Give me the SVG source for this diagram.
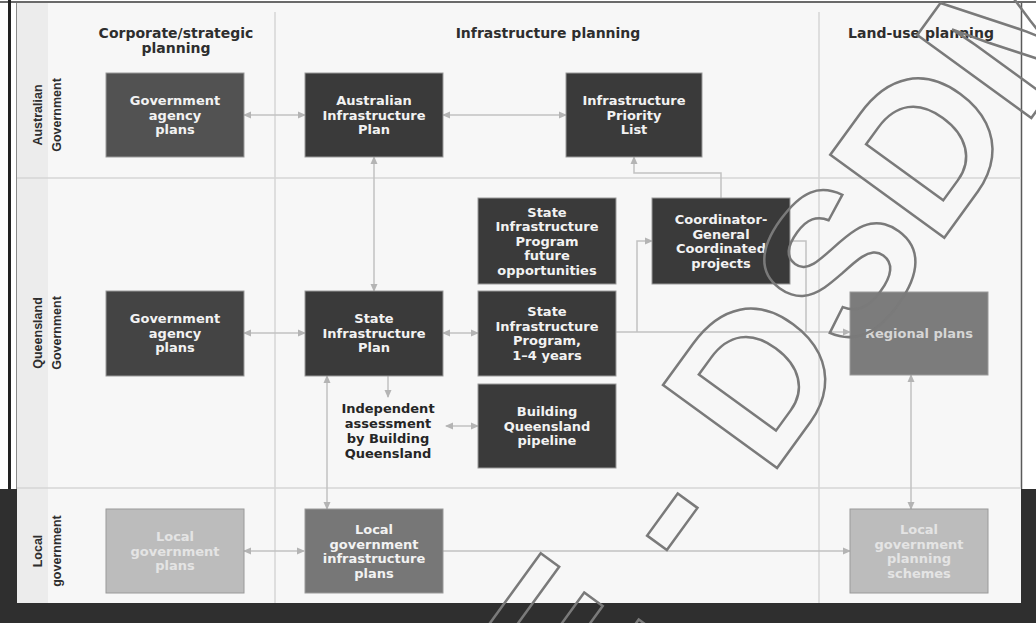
<svg xmlns="http://www.w3.org/2000/svg" width="1036" height="623" viewBox="0 0 1036 623">
<defs>
<marker id="arr" markerUnits="userSpaceOnUse" markerWidth="8" markerHeight="8" refX="7" refY="4" orient="auto-start-reverse">
<path d="M0,0.5 L8,4 L0,7.5 z" fill="#b4b4b4"/>
</marker>
<style>
.bx{stroke:#9a9a9a;stroke-width:1}
.d1{fill:#3a3a3a}.d2{fill:#525252}.d3{fill:#444444}.m1{fill:#7c7c7c}.m2{fill:#777777}.l1{fill:#bcbcbc}
.t{font-family:"DejaVu Sans",sans-serif;font-weight:bold;font-size:13px;text-anchor:middle;fill:#f2f2f2}
.tm{fill:#d6d6d6}.tl{fill:#e4e4e4}
.h{font-family:"DejaVu Sans",sans-serif;font-weight:bold;font-size:14px;text-anchor:middle;fill:#2e2e2e}
.r{font-family:"Liberation Sans",sans-serif;font-weight:bold;font-size:12.5px;text-anchor:middle;fill:#2e2e2e}
.ia{font-family:"DejaVu Sans",sans-serif;font-weight:bold;font-size:13px;text-anchor:middle;fill:#262626}
.cn{fill:none;stroke:#c2c2c2;stroke-width:1.5}
.dv{stroke:#d6d6d6;stroke-width:1.5}
.wm{font-family:"Liberation Sans",Arial,sans-serif;font-weight:bold;font-size:205px;fill:none;stroke:#7a7a7a;stroke-width:2.5}
</style>
</defs>
<rect width="1036" height="623" fill="#ffffff"/>
<rect x="0" y="489" width="1036" height="134" fill="#2f2f2f"/>
<rect x="17" y="3" width="1004" height="600" fill="#f7f7f7"/>
<rect x="17" y="3" width="31" height="600" fill="#ececec"/>
<line x1="0" y1="2" x2="1036" y2="2" stroke="#6a6a6a" stroke-width="2"/>
<rect x="8" y="0" width="3" height="489" fill="#222"/>
<line x1="16.5" y1="3" x2="16.5" y2="489" stroke="#8a8a8a" stroke-width="1"/>
<line x1="1021.5" y1="3" x2="1021.5" y2="489" stroke="#5a5a5a" stroke-width="1.5"/>

<g id="grid">
<line class="dv" x1="275" y1="12" x2="275" y2="603"/>
<line class="dv" x1="819" y1="12" x2="819" y2="603"/>
<line class="dv" x1="17" y1="178" x2="1021" y2="178"/>
<line class="dv" x1="17" y1="488" x2="1021" y2="488"/>
</g>

<g id="headers">
<text class="h" x="176" y="38">Corporate/strategic</text>
<text class="h" x="176" y="53">planning</text>
<text class="h" x="548" y="38">Infrastructure planning</text>
<text class="h" x="921" y="38">Land-use planning</text>
</g>

<g id="rowlabels">
<text class="r" transform="translate(42,115) rotate(-90)">Australian</text>
<text class="r" transform="translate(61,115) rotate(-90)">Government</text>
<text class="r" transform="translate(42,333) rotate(-90)">Queensland</text>
<text class="r" transform="translate(61,333) rotate(-90)">Government</text>
<text class="r" transform="translate(42,551) rotate(-90)">Local</text>
<text class="r" transform="translate(61,551) rotate(-90)">government</text>
</g>

<g id="connectors">
<path class="cn" d="M244,115 H305" marker-start="url(#arr)" marker-end="url(#arr)"/>
<path class="cn" d="M443,115 H566" marker-start="url(#arr)" marker-end="url(#arr)"/>
<path class="cn" d="M374,157 V291" marker-start="url(#arr)" marker-end="url(#arr)"/>
<path class="cn" d="M634,157 V173 H721 V198" marker-start="url(#arr)"/>
<path class="cn" d="M616,332 H850" marker-end="url(#arr)"/>
<path class="cn" d="M637,332 V241 H652" marker-end="url(#arr)"/>
<path class="cn" d="M790,241 H806 V332"/>
<path class="cn" d="M244,333 H305" marker-start="url(#arr)" marker-end="url(#arr)"/>
<path class="cn" d="M443,333 H478" marker-start="url(#arr)" marker-end="url(#arr)"/>
<path class="cn" d="M388,376 V397" marker-end="url(#arr)"/>
<path class="cn" d="M446,426 H478" marker-start="url(#arr)" marker-end="url(#arr)"/>
<path class="cn" d="M327,376 V509" marker-start="url(#arr)" marker-end="url(#arr)"/>
<path class="cn" d="M244,551 H304" marker-start="url(#arr)" marker-end="url(#arr)"/>
<path class="cn" d="M443,551 H850" marker-end="url(#arr)"/>
<path class="cn" d="M911,375 V509" marker-start="url(#arr)" marker-end="url(#arr)"/>
</g>

<g id="aus-agency">
<rect class="bx d2" x="106" y="73" width="138" height="84"/>
<text class="t" x="175" y="105">Government</text>
<text class="t" x="175" y="119.5">agency</text>
<text class="t" x="175" y="134">plans</text>
</g>
<g id="aus-infra-plan">
<rect class="bx d1" x="305" y="73" width="138" height="84"/>
<text class="t" x="374" y="105">Australian</text>
<text class="t" x="374" y="119.5">Infrastructure</text>
<text class="t" x="374" y="134">Plan</text>
</g>
<g id="priority-list">
<rect class="bx d1" x="566" y="73" width="136" height="84"/>
<text class="t" x="634" y="105">Infrastructure</text>
<text class="t" x="634" y="119.5">Priority</text>
<text class="t" x="634" y="134">List</text>
</g>
<g id="sip-future">
<rect class="bx d1" x="478" y="198" width="138" height="86"/>
<text class="t" x="547" y="216.5">State</text>
<text class="t" x="547" y="231">Infrastructure</text>
<text class="t" x="547" y="245.5">Program</text>
<text class="t" x="547" y="260">future</text>
<text class="t" x="547" y="274.5">opportunities</text>
</g>
<g id="coordinator-general">
<rect class="bx d1" x="652" y="198" width="138" height="86"/>
<text class="t" x="721" y="224">Coordinator-</text>
<text class="t" x="721" y="238.5">General</text>
<text class="t" x="721" y="253">Coordinated</text>
<text class="t" x="721" y="267.5">projects</text>
</g>
<g id="qld-agency">
<rect class="bx d3" x="106" y="291" width="138" height="85"/>
<text class="t" x="175" y="323">Government</text>
<text class="t" x="175" y="337.5">agency</text>
<text class="t" x="175" y="352">plans</text>
</g>
<g id="state-infra-plan">
<rect class="bx d1" x="305" y="291" width="138" height="85"/>
<text class="t" x="374" y="323">State</text>
<text class="t" x="374" y="337.5">Infrastructure</text>
<text class="t" x="374" y="352">Plan</text>
</g>
<g id="sip-1-4">
<rect class="bx d1" x="478" y="291" width="138" height="85"/>
<text class="t" x="547" y="316">State</text>
<text class="t" x="547" y="330.5">Infrastructure</text>
<text class="t" x="547" y="345">Program,</text>
<text class="t" x="547" y="359.5">1–4 years</text>
</g>
<g id="bq-pipeline">
<rect class="bx d1" x="478" y="384" width="138" height="84"/>
<text class="t" x="547" y="416">Building</text>
<text class="t" x="547" y="430.5">Queensland</text>
<text class="t" x="547" y="445">pipeline</text>
</g>
<g id="independent-assessment">
<text class="ia" x="388" y="413">Independent</text>
<text class="ia" x="388" y="428">assessment</text>
<text class="ia" x="388" y="443">by Building</text>
<text class="ia" x="388" y="458">Queensland</text>
</g>
<g id="regional-plans">
<rect class="bx m1" x="850" y="292" width="138" height="83"/>
<text class="t tm" x="919" y="338">Regional plans</text>
</g>
<g id="local-gov-plans">
<rect class="bx l1" x="106" y="509" width="138" height="84" stroke="#c8c8c8"/>
<text class="t tl" x="175" y="541">Local</text>
<text class="t tl" x="175" y="555.5">government</text>
<text class="t tl" x="175" y="570">plans</text>
</g>
<g id="local-gov-infra-plans">
<rect class="bx m2" x="305" y="509" width="138" height="84"/>
<text class="t" x="374" y="534">Local</text>
<text class="t" x="374" y="548.5">government</text>
<text class="t" x="374" y="563">infrastructure</text>
<text class="t" x="374" y="577.5">plans</text>
</g>
<g id="local-gov-planning-schemes">
<rect class="bx l1" x="850" y="509" width="138" height="84" stroke="#c8c8c8"/>
<text class="t tl" x="919" y="534">Local</text>
<text class="t tl" x="919" y="548.5">government</text>
<text class="t tl" x="919" y="563">planning</text>
<text class="t tl" x="919" y="577.5">schemes</text>
</g>

<g id="watermark">
<text class="wm" transform="translate(769,479) rotate(-54)" x="-319" y="0">E - DSDM</text>
</g>
</svg>
